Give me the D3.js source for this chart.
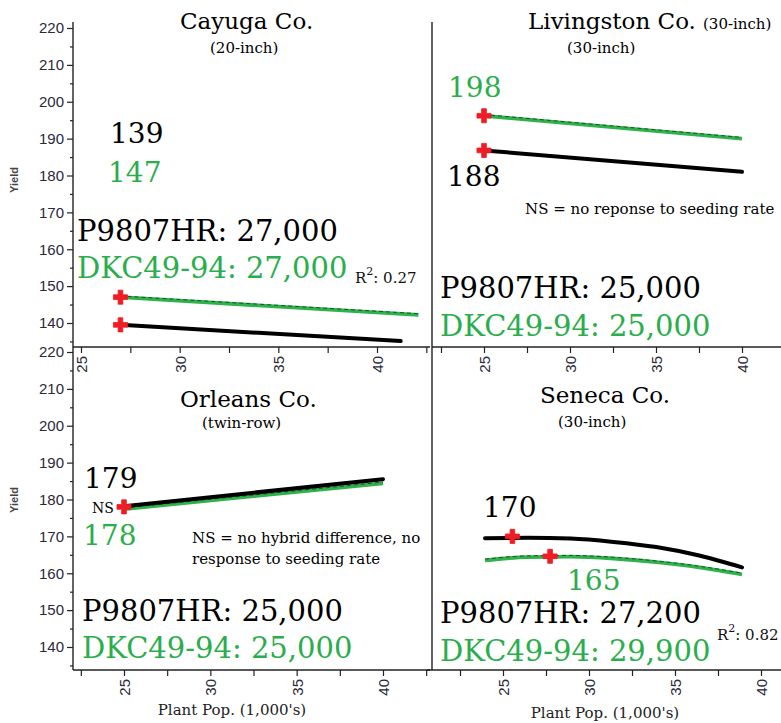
<!DOCTYPE html>
<html>
<head>
<meta charset="utf-8">
<script src="https://cdn.jsdelivr.net/npm/d3@7"></script>
<style>
  body { margin: 0; background: #fff; }
  svg text { font-family: "DejaVu Serif", serif; }
  .tick text { font-family: "Liberation Sans", Arial, sans-serif; fill: #2a2a38; font-size: 15px; }
  .tick line { stroke: #222; stroke-width: 1.2; }
</style>
</head>
<body>
<div id="chart"></div>
<script>
// values
const xLabelTicks = [25, 30, 35, 40];
const xMinorTicks = [22.5, 27.5, 32.5, 37.5, 42.5];
const yieldTicks = [140, 150, 160, 170, 180, 190, 200, 210, 220];
const yieldMinor = [135, 145, 155, 165, 175, 185, 195, 205, 215];

// Cayuga Co. (20-inch)
const cayugaP9807 = [{x: 27, y: 139.5}, {x: 41.2, y: 135.1}];
const cayugaDKC = [{x: 27, y: 147.0}, {x: 42.1, y: 142.2}];
const cayugaOptimum = [{x: 27, y: 139.5}, {x: 27, y: 147.0}];

// Livingston Co. (30-inch)
const livP9807 = [{x: 25, y: 186.8}, {x: 40, y: 181.0}];
const livDKC = [{x: 25, y: 196.2}, {x: 40, y: 190.0}];
const livOptimum = [{x: 25, y: 186.8}, {x: 25, y: 196.2}];

// Orleans Co. (twin-row)
const orlP9807 = [{x: 25, y: 178.2}, {x: 40, y: 185.5}];
const orlDKC = [{x: 25, y: 177.4}, {x: 40, y: 184.4}];
const orlOptimum = [{x: 25, y: 178.0}];

// Seneca Co. (30-inch)
const senP9807 = [
  {x: 25, y: 169.5}, {x: 27.5, y: 169.6}, {x: 30, y: 169.4}, {x: 32.5, y: 168.5},
  {x: 35, y: 167.1}, {x: 37.5, y: 164.8}, {x: 40, y: 161.6}
];
const senDKC = [
  {x: 25, y: 163.5}, {x: 27.5, y: 164.4}, {x: 30, y: 164.5}, {x: 32.5, y: 164.0},
  {x: 35, y: 163.0}, {x: 37.5, y: 161.6}, {x: 40, y: 159.7}
];
const senOptimum = [{x: 26.6, y: 170.0}, {x: 28.8, y: 164.6}];

const GREEN = '#2db24c';
const GREEN_TXT = '#2aae4c';
const RED = '#ee1c24';
const AXIS = '#222';

const svg = d3.select('#chart')
  .append('svg')
  .attr('width', 781)
  .attr('height', 723)
  .style('background', '#fff');

function makeScales (xr, yr) {
  return {
    x: d3.scaleLinear().domain([25, 40]).range(xr),
    y: d3.scaleLinear().domain([140, 220]).range(yr)
  };
}

function axisLine (x1, y1, x2, y2) {
  svg.append('line')
    .attr('x1', x1).attr('y1', y1).attr('x2', x2).attr('y2', y2)
    .attr('stroke', AXIS).attr('stroke-width', 1.4);
}

function yAxis (y, xPos) {
  const major = svg.append('g')
    .attr('transform', `translate(${xPos},0)`)
    .call(d3.axisLeft(y).tickValues(yieldTicks).tickSize(6).tickPadding(3));
  major.select('.domain').remove();
  const minor = svg.append('g')
    .attr('transform', `translate(${xPos},0)`)
    .call(d3.axisLeft(y).tickValues(yieldMinor).tickSize(3).tickFormat(''));
  minor.select('.domain').remove();
}

function xAxis (x, yPos, lo, hi) {
  const inRange = v => x(v) >= lo && x(v) <= hi;
  const major = svg.append('g')
    .attr('transform', `translate(0,${yPos})`)
    .call(d3.axisBottom(x).tickValues(xLabelTicks).tickSize(6));
  major.select('.domain').remove();
  major.selectAll('.tick text')
    .attr('transform', 'rotate(-90)')
    .attr('text-anchor', 'end')
    .attr('x', -9)
    .attr('y', 0)
    .attr('dy', '0.36em');
  const minor = svg.append('g')
    .attr('transform', `translate(0,${yPos})`)
    .call(d3.axisBottom(x).tickValues(xMinorTicks.filter(inRange)).tickSize(6).tickFormat(''));
  minor.select('.domain').remove();
}

function series (s, data, color, curve) {
  const line = d3.line()
    .x(d => s.x(d.x))
    .y(d => s.y(d.y))
    .curve(curve || d3.curveLinear);
  if (color === 'green') {
    svg.append('path').attr('d', line(data))
      .attr('fill', 'none').attr('stroke', GREEN).attr('stroke-width', 3.8);
    svg.append('path').attr('d', line(data))
      .attr('transform', 'translate(0,-1.2)')
      .attr('fill', 'none').attr('stroke', '#1a3a1a').attr('stroke-width', 0.8)
      .attr('stroke-dasharray', '4,3');
  } else {
    svg.append('path').attr('d', line(data))
      .attr('fill', 'none').attr('stroke', '#000').attr('stroke-width', 4)
      .attr('stroke-linecap', 'round');
  }
}

function markers (s, data) {
  svg.selectAll(null)
    .data(data)
    .enter()
      .append('path')
      .attr('d', d3.symbol().type(d3.symbolCross).size(110))
      .attr('transform', d => `translate(${s.x(d.x)},${s.y(d.y)})`)
      .attr('fill', RED)
      .attr('stroke', RED)
      .attr('stroke-width', 0.8)
      .attr('stroke-linejoin', 'round');
}

function txt (x, y, str, size, color, opts) {
  const o = opts || {};
  return svg.append('text')
    .attr('x', x).attr('y', y)
    .attr('font-size', size)
    .attr('fill', color || '#000')
    .attr('text-anchor', o.anchor || 'start')
    .attr('font-weight', o.weight || 'normal')
    .text(str);
}

function rsq (x, y, value) {
  const t = svg.append('text').attr('x', x).attr('y', y).attr('font-size', 15).attr('fill', '#111');
  t.append('tspan').text('R');
  t.append('tspan').attr('font-size', 11).attr('dy', -8).text('2');
  t.append('tspan').attr('dy', 8).text(': ' + value);
}

// scales for the four panels
const tl = makeScales([81, 377], [323, 28]);
const tr = makeScales([484, 742], [323, 28]);
const bl = makeScales([124, 383], [647, 352]);
const br = makeScales([485, 742], [647, 352]);
const brAxis = d3.scaleLinear().domain([25, 40]).range([503, 761]);

// axes
axisLine(73, 22, 73, 347);
axisLine(73, 347, 430, 347);
yAxis(tl.y, 73);
xAxis(tl.x, 347, 73, 430);

axisLine(432, 22, 432, 347);
axisLine(432, 347, 781, 347);
xAxis(tr.x, 347, 432, 781);

axisLine(73, 347, 73, 670);
axisLine(73, 670, 430, 670);
yAxis(bl.y, 73);
xAxis(bl.x, 670, 73, 430);

axisLine(432, 347, 432, 670);
axisLine(427, 670, 781, 670);
xAxis(brAxis, 670, 427, 781);

// axis titles
svg.append('text').attr('transform', 'translate(18,180) rotate(-90)')
  .attr('text-anchor', 'middle').attr('font-size', 11).attr('font-weight', 'bold')
  .attr('fill', '#444').style('font-family', '"Liberation Sans", Arial, sans-serif').text('Yield');
svg.append('text').attr('transform', 'translate(18,500) rotate(-90)')
  .attr('text-anchor', 'middle').attr('font-size', 11).attr('font-weight', 'bold')
  .attr('fill', '#444').style('font-family', '"Liberation Sans", Arial, sans-serif').text('Yield');
txt(232, 715, "Plant Pop. (1,000's)", 15, '#222', {anchor: 'middle'});
txt(605, 718, "Plant Pop. (1,000's)", 15, '#222', {anchor: 'middle'});

// Cayuga
series(tl, cayugaDKC, 'green');
series(tl, cayugaP9807, 'black');
markers(tl, cayugaOptimum);
txt(180, 29, 'Cayuga Co.', 23);
txt(210, 53, '(20-inch)', 15);
txt(110, 143, '139', 28);
txt(108, 182, '147', 28, GREEN_TXT);
txt(77, 241, 'P9807HR: 27,000', 29);
txt(77, 278, 'DKC49-94: 27,000', 29, GREEN_TXT);
rsq(355, 283, '0.27');

// Livingston
series(tr, livDKC, 'green');
series(tr, livP9807, 'black');
markers(tr, livOptimum);
txt(528, 29, 'Livingston Co.', 23);
txt(703, 29, '(30-inch)', 15);
txt(567, 53, '(30-inch)', 15);
txt(448, 97, '198', 28, GREEN_TXT);
txt(447, 186, '188', 28);
txt(525, 214, 'NS = no reponse to seeding rate', 15);
txt(440, 298, 'P9807HR: 25,000', 29);
txt(440, 336, 'DKC49-94: 25,000', 29, GREEN_TXT);

// Orleans
series(bl, orlDKC, 'green');
series(bl, orlP9807, 'black');
markers(bl, orlOptimum);
txt(180, 407, 'Orleans Co.', 23);
txt(202, 428, '(twin-row)', 15);
txt(84, 488, '179', 28);
txt(92, 513, 'NS', 14);
txt(83, 545, '178', 28, GREEN_TXT);
txt(192, 543, 'NS = no hybrid difference, no', 15);
txt(192, 564, 'response to seeding rate', 15);
txt(82, 621, 'P9807HR: 25,000', 29);
txt(82, 658, 'DKC49-94: 25,000', 29, GREEN_TXT);

// Seneca
series(br, senDKC, 'green', d3.curveMonotoneX);
series(br, senP9807, 'black', d3.curveMonotoneX);
markers(br, senOptimum);
txt(540, 403, 'Seneca Co.', 23);
txt(558, 427, '(30-inch)', 15);
txt(483, 517, '170', 28);
txt(567, 590, '165', 28, GREEN_TXT);
txt(440, 623, 'P9807HR: 27,200', 29);
txt(440, 661, 'DKC49-94: 29,900', 29, GREEN_TXT);
rsq(717, 640, '0.82');
</script>
</body>
</html>
